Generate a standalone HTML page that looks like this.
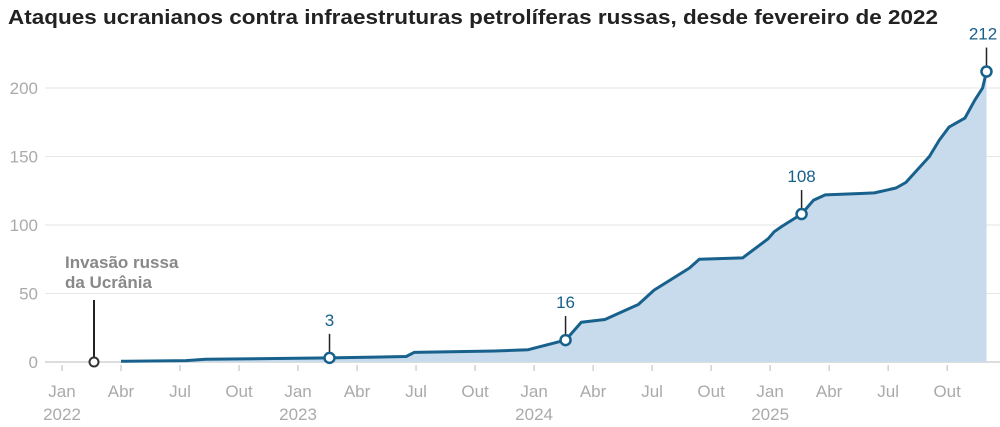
<!DOCTYPE html>
<html><head><meta charset="utf-8"><style>
body{margin:0;background:#fff;}
svg{display:block;font-family:"Liberation Sans",Arial,sans-serif;}
</style></head><body>
<svg id="c" width="1000" height="427">
<text x="8" y="24" font-size="20" font-weight="bold" fill="#222" textLength="930" lengthAdjust="spacingAndGlyphs">Ataques ucranianos contra infraestruturas petrolíferas russas, desde fevereiro de 2022</text>
<g id="grid"></g><g id="area"></g><g id="ann"></g>
</svg>
<script>
// months since Jan 2022 (fractional) and cumulative attacks
const months=[3,6.3,7.3,13.6,17.5,17.9,22,23.7,25.6,26.4,27.6,29.3,30.1,31.9,32.4,34.6,35.9,36.2,36.6,37.6,38.2,38.8,40.6,41.3,42.4,42.9,43.4,44.1,44.6,45.1,45.9,46.4,46.8,47.0];
const values=[0.5,1,2,3,4,7,8,9,16,29,31,42,52.5,68.6,75,76,90,95,99,108,118,122,123,123.4,127,131,139,150,162,171.5,178,191,200,212];
const lastM=47.0;
const yTicks=[0,50,100,150,200];
const xTickLabels=["Jan","Abr","Jul","Out","Jan","Abr","Jul","Out","Jan","Abr","Jul","Out","Jan","Abr","Jul","Out"];
const yearLabels=["2022","2023","2024","2025"];
const callouts=[{m:13.6,v:3,t:"3"},{m:25.6,v:16,t:"16"},{m:37.6,v:108,t:"108"},{m:47.0,v:212,t:"212"}];
const X=m=>62+m*19.67, Y=v=>362-v*1.37;
const NS="http://www.w3.org/2000/svg";
function mk(tag,attrs,parent,txt){const e=document.createElementNS(NS,tag);for(const k in attrs)e.setAttribute(k,attrs[k]);if(txt!==undefined)e.textContent=txt;parent.appendChild(e);return e;}
const grid=document.getElementById('grid'),area=document.getElementById('area'),ann=document.getElementById('ann');
yTicks.forEach(v=>{
 const l=mk('line',{x1:45,x2:1000,y1:Y(v),y2:Y(v),stroke:v===0?'#bbb':'#e6e6e6','stroke-width':1},grid);
 
 
 const t=mk('text',{x:38,y:Y(v)+6,'text-anchor':'end','font-size':17,fill:'#aaa'},grid,String(v));
 
 
});
xTickLabels.forEach((s,i)=>{
 const x=X(i*3);
 const tk=mk('line',{x1:x,x2:x,y1:365,y2:371,stroke:'#bbb'},grid);
 
 
 const t=mk('text',{x:x,y:397,'text-anchor':'middle','font-size':17,fill:'#aaa'},grid,s);
 
 
});
yearLabels.forEach((s,i)=>{
 const t=mk('text',{x:X(i*12),y:420,'text-anchor':'middle','font-size':17,fill:'#aaa'},grid,s);
 
 
});
let d='';months.forEach((m,i)=>{d+=(i?'L':'M')+X(m).toFixed(1)+','+Y(values[i]).toFixed(1);});
const fill=mk('path',{d:d+'L'+X(lastM)+','+Y(0)+'L'+X(months[0])+','+Y(0)+'Z',fill:'#c8dbec'},area);


const line=mk('path',{d:d,fill:'none',stroke:'#17618c','stroke-width':3,'stroke-linejoin':'round'},area);


const il=mk('line',{x1:94,x2:94,y1:300,y2:357,stroke:'#222','stroke-width':2},ann);


const ic=mk('circle',{cx:94,cy:362,r:4.5,fill:'#fff',stroke:'#333','stroke-width':2},ann);


const it=mk('text',{x:65,y:268,'font-size':17,'font-weight':'bold',fill:'#888'},ann);


mk('tspan',{x:65,dy:0},it,'Invasão russa');
mk('tspan',{x:65,dy:20},it,'da Ucrânia');
callouts.forEach((c,i)=>{
 const x=X(c.m),y=Y(c.v);
 const l=mk('line',{x1:x,x2:x,y1:y-24,y2:y-6,stroke:'#222','stroke-width':1.5},ann);
 
 
 const ci=mk('circle',{cx:x,cy:y,r:5,fill:'#fff',stroke:'#17618c','stroke-width':2.5},ann);
 
 
 const tx=(i===callouts.length-1)?Math.min(x,983):x;
 const t=mk('text',{x:tx,y:y-32,'text-anchor':'middle','font-size':17,fill:'#17618c'},ann,c.t);
 
 
});
</script>
</body></html>
